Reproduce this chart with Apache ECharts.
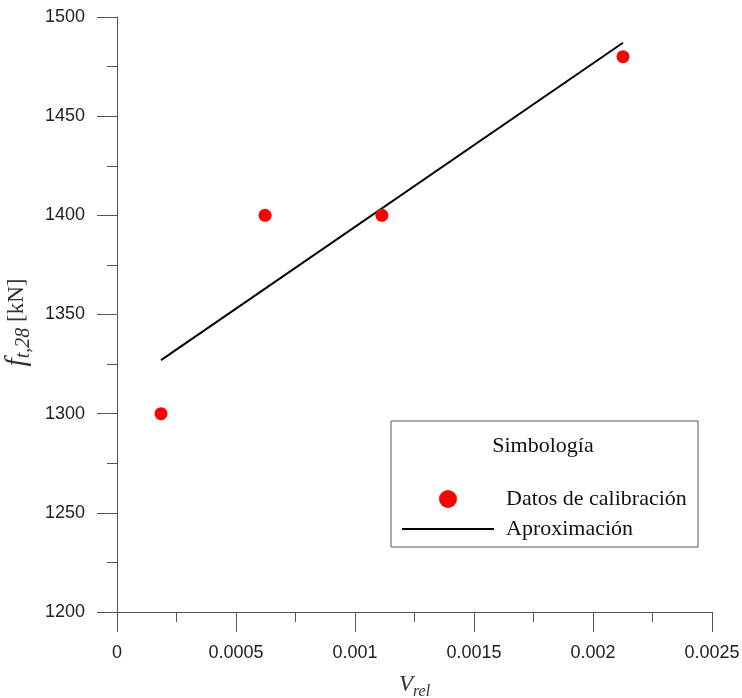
<!DOCTYPE html>
<html>
<head>
<meta charset="utf-8">
<script src="https://cdn.jsdelivr.net/npm/echarts@6/dist/echarts.min.js"></script>
<style>html,body{margin:0;padding:0;background:#fff}#c{width:742px;height:698px}</style>
</head>
<body>
<div id="c"></div>
<script>
// Data
const calibX = [0.000185, 0.000622, 0.001113, 0.002126];
const calibY = [1300, 1400, 1400, 1480];
const fitX = [0.000185, 0.002126];
const fitY = [1327, 1487];
const xTicks = { min: 0, max: 0.0025, interval: 0.0005 };
const yTicks = { min: 1200, max: 1500, interval: 50 };
const seriesNames = ['Datos de calibración', 'Aproximación'];
const legendTitle = 'Simbología';

const axisColor = '#555';
const chart = echarts.init(document.getElementById('c'), null, { renderer: 'canvas' });
const serif = '"Liberation Serif", "Times New Roman", serif';
const sans = '"Liberation Sans", Arial, sans-serif';
const fmt = v => String(parseFloat(Number(v).toPrecision(6)));

const option = {
  animation: false,
  backgroundColor: '#fff',
  grid: { left: 117, right: 30, top: 17, bottom: 86, containLabel: false, outerBoundsMode: 'none' },
  xAxis: {
    type: 'value',
    min: xTicks.min, max: xTicks.max, interval: xTicks.interval,
    name: '{v|V}{s|rel}',
    nameLocation: 'middle',
    nameGap: 58,
    nameTextStyle: {
      rich: {
        v: { fontFamily: serif, fontStyle: 'italic', fontSize: 23, color: '#333', lineHeight: 30, verticalAlign: 'middle' },
        s: { fontFamily: serif, fontStyle: 'italic', fontSize: 16, color: '#333', lineHeight: 14, verticalAlign: 'bottom' }
      }
    },
    axisLine: { show: true, onZero: false, lineStyle: { color: axisColor, width: 1 } },
    axisTick: { show: true, inside: false, length: 20, lineStyle: { color: axisColor } },
    minorTick: { show: true, splitNumber: 2, length: 10, lineStyle: { color: axisColor } },
    splitLine: { show: false },
    axisLabel: { margin: 32, fontFamily: sans, fontSize: 18, color: '#222', formatter: fmt }
  },
  yAxis: {
    type: 'value',
    min: yTicks.min, max: yTicks.max, interval: yTicks.interval,
    name: '{f|f}{s|t,28}{n| [kN]}',
    nameLocation: 'middle',
    nameGap: 80,
    nameTextStyle: {
      padding: [0, 16, 0, 0],
      rich: {
        f: { fontFamily: serif, fontStyle: 'italic', fontSize: 29, color: '#333', lineHeight: 34, verticalAlign: 'middle' },
        s: { fontFamily: serif, fontStyle: 'italic', fontSize: 20, color: '#333', lineHeight: 16, verticalAlign: 'bottom' },
        n: { fontFamily: serif, fontSize: 23, color: '#333', lineHeight: 34, verticalAlign: 'middle' }
      }
    },
    axisLine: { show: true, onZero: false, lineStyle: { color: axisColor, width: 1 } },
    axisTick: { show: true, inside: false, length: 20, lineStyle: { color: axisColor } },
    minorTick: { show: true, splitNumber: 2, length: 10, lineStyle: { color: axisColor } },
    splitLine: { show: false },
    axisLabel: { margin: 32, fontFamily: sans, fontSize: 18, color: '#222', formatter: fmt }
  },
  legend: {
    orient: 'vertical',
    left: 397, top: 483,
    itemWidth: 92, itemHeight: 18, itemGap: 8,
    selectedMode: false,
    z: 20,
    textStyle: { fontFamily: serif, fontSize: 22, color: '#111', padding: [0, 0, 0, 7] },
    data: [
      { name: seriesNames[0], icon: 'circle', itemStyle: { color: '#f00' } },
      { name: seriesNames[1], icon: 'path://M0 0 H92 V2 H0 Z', itemStyle: { color: '#000' } }
    ]
  },
  graphic: [
    { type: 'rect', z: 1, shape: { x: 391, y: 421, width: 307, height: 126 }, style: { fill: 'rgba(255,255,255,0)', stroke: '#555', lineWidth: 1 } },
    { type: 'text', z: 1, x: 543, y: 446, style: { text: legendTitle, font: '22px ' + serif, fill: '#111', align: 'center', verticalAlign: 'middle' } }
  ],
  series: [
    {
      name: seriesNames[0],
      type: 'scatter',
      symbol: 'circle',
      symbolSize: 13,
      itemStyle: { color: '#f00', opacity: 1 },
      data: calibX.map((x, i) => [x, calibY[i]]),
      z: 3
    },
    {
      name: seriesNames[1],
      type: 'line',
      showSymbol: false,
      symbol: 'none',
      lineStyle: { color: '#000', width: 2 },
      itemStyle: { color: '#000' },
      data: fitX.map((x, i) => [x, fitY[i]]),
      z: 2
    }
  ]
};
chart.setOption(option);
</script>
</body>
</html>
